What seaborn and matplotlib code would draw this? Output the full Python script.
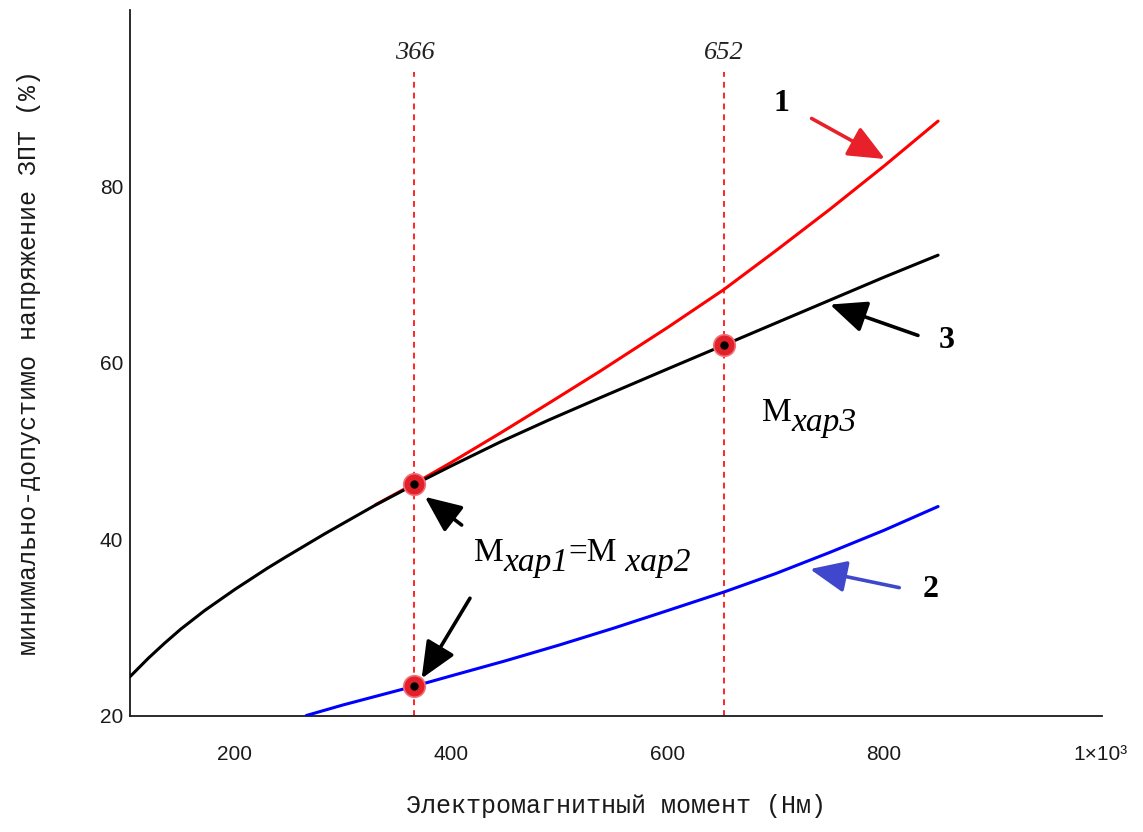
import numpy as np
import pandas as pd
import matplotlib
matplotlib.use("Agg")
import matplotlib.pyplot as plt
import seaborn as sns
from matplotlib.patches import FancyArrowPatch

# Characteristic curves: electromagnetic torque (N·m) vs minimal DC-link voltage (%)
curve1_x = [330, 366, 400, 445, 490, 537, 600, 652, 700, 750, 800, 850]
curve1_y = [43.9, 46.3, 48.7, 52.0, 55.4, 59.0, 64.0, 68.3, 72.7, 77.4, 82.3, 87.4]

curve2_x = [266, 300, 368, 400, 450, 500, 550, 600, 652, 700, 750, 800, 850]
curve2_y = [20.0, 21.2, 23.4, 24.5, 26.2, 28.0, 29.9, 31.9, 34.0, 36.1, 38.5, 41.0, 43.7]

curve3_x = [103, 120, 135, 150, 172, 200, 230, 246, 283, 329, 366, 400, 445, 490,
            537, 600, 652, 700, 750, 800, 850]
curve3_y = [24.4, 26.5, 28.2, 29.8, 31.9, 34.3, 36.7, 37.9, 40.6, 43.8, 46.2, 48.3, 51.0,
            53.5, 56.0, 59.3, 62.0, 64.5, 67.1, 69.7, 72.2]

# Characteristic torque points
mark_x = [366, 366, 652]
mark_y = [46.2, 23.4, 62.0]
vline_x = [366, 652]
vline_labels = ["366", "652"]

x_ticks = [200, 400, 600, 800, 1000]
x_ticklabels = ["200", "400", "600", "800", "1×10³"]
y_ticks = [20, 40, 60, 80]

sns.set_theme(style="white")
plt.rcParams["font.family"] = ["Liberation Sans", "DejaVu Sans"]

fig = plt.figure(figsize=(11.43, 8.32), dpi=100)
ax = fig.add_axes([0.1137, 0.1400, 0.8504, 0.8480])

df1 = pd.DataFrame({"x": curve1_x, "y": curve1_y})
df2 = pd.DataFrame({"x": curve2_x, "y": curve2_y})
df3 = pd.DataFrame({"x": curve3_x, "y": curve3_y})

sns.lineplot(data=df1, x="x", y="y", color="#ff0000", lw=2.2, ax=ax, zorder=3)
sns.lineplot(data=df3, x="x", y="y", color="#000000", lw=2.2, ax=ax, zorder=4)
sns.lineplot(data=df2, x="x", y="y", color="#0000ff", lw=2.2, ax=ax, zorder=4)

ax.set_xlim(103, 1001.5)
ax.set_ylim(20, 100)

# dashed guides at the characteristic torques
ax.vlines(vline_x, 20, 93, colors="#ff0000", linestyles=(0, (3.5, 3)), lw=1.2, zorder=2)
for vx, lab in zip(vline_x, vline_labels):
    ax.text(vx, 93.9, lab, ha="center", va="bottom", fontsize=19,
            family="Liberation Serif", style="italic", color="#222222")

# markers
ax.plot(mark_x, mark_y, "o", ms=15.5, mfc="#e3202a", mec="#f0707a", mew=1.2, zorder=6, ls="none")
ax.plot(mark_x, mark_y, "o", ms=5, mfc="black", mec="black", zorder=7, ls="none")


def arrow(tail, tip, color):
    a = FancyArrowPatch(tail, tip, arrowstyle="-|>,head_length=1.6,head_width=0.7",
                        mutation_scale=14, color=color, lw=2.6, zorder=8,
                        shrinkA=0, shrinkB=0)
    ax.add_patch(a)


arrow((733.1, 87.7), (800.9, 83.1), "#e8202a")
arrow((831.4, 63.1), (750.1, 66.6), "black")
arrow((814.1, 34.5), (731.6, 36.6), "#3f48cc")
arrow((409.6, 41.6), (375.6, 44.8), "black")
arrow((417.3, 33.3), (372.6, 24.2), "black")

num_font = dict(fontsize=23, family="Liberation Serif", weight="bold", color="black",
                ha="center", va="center")
ax.text(704.8, 89.4, "1", **num_font)
ax.text(858.2, 62.5, "3", **num_font)
ax.text(843.4, 34.3, "2", **num_font)


def compound(x, y, pieces):
    """Draw text pieces one after another; each piece is (text, style, dy_points)."""
    prev = None
    for txt, style, dy in pieces:
        kw = dict(fontsize=24, family="Liberation Serif", style=style, color="black", va="bottom")
        if prev is None:
            prev = ax.text(x, y, txt, ha="left", **kw)
            base_dy = dy
        else:
            prev = ax.annotate(txt, xy=(1, 0), xycoords=prev, xytext=(0, dy - base_dy),
                               textcoords="offset points", ha="left", **kw)
            base_dy = dy


compound(687.2, 52.6, [("M", "normal", 0), ("xap3", "italic", -7)])
compound(421.0, 36.7, [("M", "normal", 0), ("xap1", "italic", -7), ("=M", "normal", 0),
                       (" xap2", "italic", -7)])

# axes styling
for side in ["top", "right"]:
    ax.spines[side].set_visible(False)
for side in ["left", "bottom"]:
    ax.spines[side].set_color("#1a1a1a")
    ax.spines[side].set_linewidth(1.3)

ax.set_xticks(x_ticks)
ax.set_xticklabels(x_ticklabels)
ax.set_yticks(y_ticks)
ax.tick_params(axis="x", direction="in", length=9, width=1.0, color="#1a1a1a",
               pad=21, labelsize=15)
ax.tick_params(axis="y", direction="in", length=7.5, width=1.0, color="#1a1a1a",
               pad=5, labelsize=15)
ax.xaxis.get_major_ticks()[-1].tick1line.set_visible(False)
for lab in ax.get_xticklabels() + ax.get_yticklabels():
    lab.set_color("#1a1a1a")

ax.set_xlabel("Электромагнитный момент (Нм)", fontsize=18, family="Liberation Mono",
              color="#1a1a1a", labelpad=22)
ax.set_ylabel("минимально-допустимо напряжение ЗПТ (%)", fontsize=18,
              family="Liberation Mono", color="#1a1a1a", labelpad=42)
ax.grid(False)

fig.savefig("out.png", dpi=100, facecolor="white")
